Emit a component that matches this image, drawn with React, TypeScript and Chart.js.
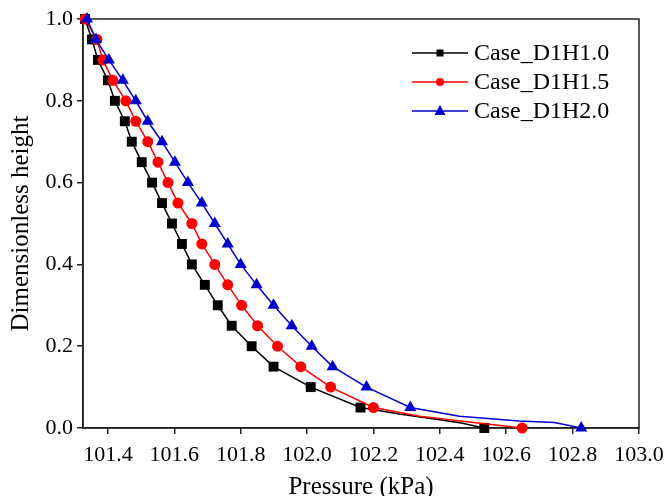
import React, { useEffect, useRef } from "react";
import { Chart, registerables } from "chart.js";

Chart.register(...registerables);

const seriesNames = ["Case_D1H1.0", "Case_D1H1.5", "Case_D1H2.0"];
const seriesColors = ["#000000", "#ff0000", "#0000cc"];
const seriesPointStyles = ["rect", "circle", "triangle"];
const seriesPointRadius = [7, 5.5, 7];

const heights = [1.0, 0.95, 0.9, 0.85, 0.8, 0.75, 0.7, 0.65, 0.6, 0.55, 0.5, 0.45, 0.4, 0.35, 0.3, 0.25, 0.2, 0.15, 0.1, 0.05, 0.0];

const pressD1H10 = [101.331, 101.352, 101.370, 101.400, 101.421, 101.451, 101.472, 101.502, 101.533, 101.563, 101.593, 101.623, 101.653, 101.692, 101.731, 101.773, 101.833, 101.899, 102.011, 102.161, 102.534];
const pressD1H15 = [101.331, 101.367, 101.385, 101.415, 101.454, 101.484, 101.520, 101.551, 101.581, 101.611, 101.653, 101.683, 101.722, 101.761, 101.803, 101.851, 101.911, 101.981, 102.071, 102.200, 102.648];
const pressD1H20 = [101.337, 101.364, 101.403, 101.445, 101.484, 101.520, 101.563, 101.602, 101.641, 101.683, 101.722, 101.761, 101.800, 101.848, 101.899, 101.954, 102.014, 102.077, 102.179, 102.311, 102.826];

// extra line points (no marker) read from the tail of each curve
const tailPressD1H10 = [102.278, 102.399, 102.465, 102.519];
const tailHeightD1H10 = [0.034, 0.02, 0.012, 0.0024];
const tailPressD1H15 = [102.339, 102.489];
const tailHeightD1H15 = [0.029, 0.0147];
const tailPressD1H20 = [102.459, 102.639, 102.745];
const tailHeightD1H20 = [0.029, 0.017, 0.0134];

const xTicks = [101.4, 101.6, 101.8, 102.0, 102.2, 102.4, 102.6, 102.8, 103.0];
const yTicks = [0.0, 0.2, 0.4, 0.6, 0.8, 1.0];

const allPress = [pressD1H10, pressD1H15, pressD1H20];
const allTailPress = [tailPressD1H10, tailPressD1H15, tailPressD1H20];
const allTailHeight = [tailHeightD1H10, tailHeightD1H15, tailHeightD1H20];

const FONT = "'Liberation Serif', 'Times New Roman', serif";

function buildSeries(i: number) {
  const press = allPress[i];
  const pts: { x: number; y: number }[] = [];
  const radii: number[] = [];
  for (let k = 0; k < heights.length - 1; k++) {
    pts.push({ x: press[k], y: heights[k] });
    radii.push(seriesPointRadius[i]);
  }
  allTailPress[i].forEach((p, j) => {
    pts.push({ x: p, y: allTailHeight[i][j] });
    radii.push(0);
  });
  pts.push({ x: press[heights.length - 1], y: heights[heights.length - 1] });
  radii.push(seriesPointRadius[i]);
  return { pts, radii };
}

const legendPlugin = {
  id: "customLegend",
  afterDraw(chart: any) {
    const ctx = chart.ctx;
    ctx.save();
    const x0 = 412, x1 = 468, xm = 440, tx = 474;
    const rows = [53, 82, 111];
    const sizes = [3.5, 4, 5];
    seriesNames.forEach((name, i) => {
      const y = rows[i];
      ctx.strokeStyle = seriesColors[i];
      ctx.fillStyle = seriesColors[i];
      ctx.lineWidth = 1.5;
      ctx.beginPath();
      ctx.moveTo(x0, y);
      ctx.lineTo(x1, y);
      ctx.stroke();
      const s = sizes[i];
      ctx.beginPath();
      if (i === 0) {
        ctx.rect(xm - s, y - s, 2 * s, 2 * s);
      } else if (i === 1) {
        ctx.arc(xm, y, s, 0, Math.PI * 2);
      } else {
        ctx.moveTo(xm, y - s - 1);
        ctx.lineTo(xm + s + 0.5, y + s - 1);
        ctx.lineTo(xm - s - 0.5, y + s - 1);
        ctx.closePath();
      }
      ctx.fill();
      ctx.fillStyle = "#000";
      ctx.font = `24px ${FONT}`;
      ctx.textBaseline = "middle";
      ctx.textAlign = "left";
      ctx.fillText(name, tx, y + 1);
    });
    ctx.restore();
  },
};

const framePlugin = {
  id: "frame",
  beforeDatasetsDraw(chart: any) {
    const { ctx, chartArea } = chart;
    ctx.save();
    ctx.strokeStyle = "#222";
    ctx.lineWidth = 1.5;
    ctx.strokeRect(chartArea.left, chartArea.top, chartArea.right - chartArea.left, chartArea.bottom - chartArea.top);
    ctx.restore();
  },
};

export default function App() {
  const ref = useRef<HTMLCanvasElement | null>(null);
  useEffect(() => {
    if (!ref.current) return;
    const datasets = [0, 1, 2].map((i) => {
      const { pts, radii } = buildSeries(i);
      return {
        label: seriesNames[i],
        data: pts,
        borderColor: seriesColors[i],
        backgroundColor: seriesColors[i],
        borderWidth: 1.5,
        pointStyle: seriesPointStyles[i],
        pointRadius: radii,
        pointBorderWidth: 0,
        pointBackgroundColor: seriesColors[i],
        pointBorderColor: seriesColors[i],
        tension: 0,
        clip: false as any,
        order: 2 - i,
      };
    });
    const chart = new Chart(ref.current, {
      type: "line",
      data: { datasets },
      options: {
        responsive: false,
        animation: false,
        layout: { padding: { top: 19, right: 28, left: 0, bottom: 0 } },
        plugins: { legend: { display: false }, tooltip: { enabled: false } },
        scales: {
          x: {
            type: "linear",
            min: 101.325,
            max: 103.0,
            afterBuildTicks: (s: any) => {
              s.ticks = xTicks.map((v) => ({ value: v }));
            },
            afterFit: (s: any) => {
              s.height = 68;
              s.paddingLeft = 0;
              s.paddingRight = 0;
            },
            ticks: {
              callback: (v: any) => Number(v).toFixed(1),
              font: { family: FONT, size: 22 },
              color: "#000",
              padding: 8,
              maxRotation: 0,
              autoSkip: false,
            },
            grid: { drawOnChartArea: false, tickLength: 6, tickColor: "#222", lineWidth: 1.5 },
            border: { color: "#222", width: 1.5 },
            title: {
              display: true,
              text: "Pressure (kPa)",
              font: { family: FONT, size: 25, lineHeight: 1 },
              color: "#000",
              padding: { top: 0, bottom: -4 },
            },
          },
          y: {
            type: "linear",
            min: 0,
            max: 1.0,
            afterBuildTicks: (s: any) => {
              s.ticks = yTicks.map((v) => ({ value: v }));
            },
            afterFit: (s: any) => {
              s.width = 83;
              s.paddingTop = 0;
              s.paddingBottom = 0;
            },
            ticks: {
              callback: (v: any) => Number(v).toFixed(1),
              font: { family: FONT, size: 22 },
              color: "#000",
              padding: 4,
            },
            grid: { drawOnChartArea: false, tickLength: 6, tickColor: "#222", lineWidth: 1.5 },
            border: { color: "#222", width: 1.5 },
            title: {
              display: true,
              text: "Dimensionless height",
              font: { family: FONT, size: 25, lineHeight: 1 },
              color: "#000",
              padding: { top: 9, bottom: 0 },
            },
          },
        },
      },
      plugins: [framePlugin, legendPlugin],
    });
    return () => chart.destroy();
  }, []);
  return (
    <div style={{ position: "absolute", left: 0, top: 0, width: 667, height: 496, background: "#fff" }}>
      <canvas ref={ref} width={667} height={496} style={{ display: "block" }} />
    </div>
  );
}
